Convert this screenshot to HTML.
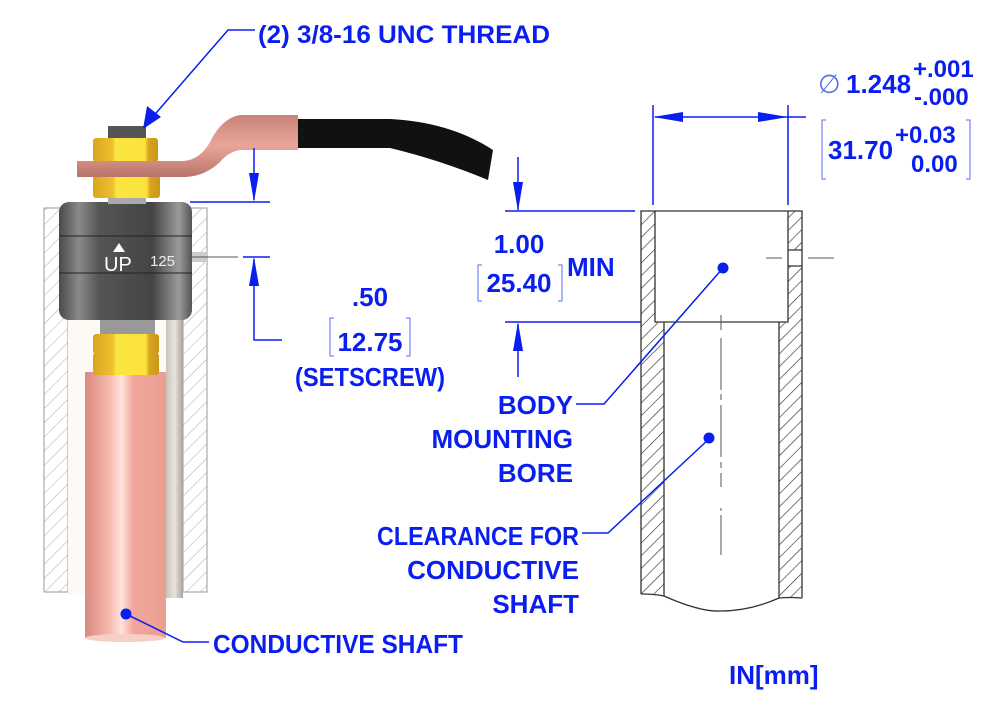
<!DOCTYPE html>
<html><head><meta charset="utf-8"><style>
html,body{margin:0;padding:0;background:#fff}
svg{display:block}
text{font-family:"Liberation Sans",sans-serif;font-weight:bold;fill:#0a1ef0}
</style></head><body>
<svg width="1000" height="711" viewBox="0 0 1000 711" xmlns="http://www.w3.org/2000/svg">
<defs>
<pattern id="h" patternUnits="userSpaceOnUse" width="9" height="9" patternTransform="rotate(45)">
<line x1="0" y1="0" x2="0" y2="9" stroke="#333" stroke-width="1.3"/></pattern>
<pattern id="hl" patternUnits="userSpaceOnUse" width="10" height="10" patternTransform="rotate(45)">
<line x1="0" y1="0" x2="0" y2="10" stroke="#aaa" stroke-width="1"/></pattern>
<linearGradient id="cu" x1="0" x2="1"><stop offset="0" stop-color="#d98a80"/><stop offset=".3" stop-color="#f6b8ae"/><stop offset=".45" stop-color="#fde3dc"/><stop offset=".6" stop-color="#f2a59a"/><stop offset="1" stop-color="#e8a090"/></linearGradient>
<linearGradient id="gr" x1="0" x2="1"><stop offset="0" stop-color="#4a4a4a"/><stop offset=".15" stop-color="#8a8a8a"/><stop offset=".3" stop-color="#555"/><stop offset=".7" stop-color="#444"/><stop offset=".9" stop-color="#9a9a9a"/><stop offset="1" stop-color="#555"/></linearGradient>
<linearGradient id="nut" x1="0" x2="1"><stop offset="0" stop-color="#d9a520"/><stop offset=".3" stop-color="#f0c030"/><stop offset=".35" stop-color="#fbe640"/><stop offset=".8" stop-color="#fbe23c"/><stop offset=".85" stop-color="#d9a520"/><stop offset="1" stop-color="#c89818"/></linearGradient>
<linearGradient id="ss" x1="0" x2="1"><stop offset="0" stop-color="#c8c2b8"/><stop offset=".5" stop-color="#e8e4de"/><stop offset="1" stop-color="#a8a29a"/></linearGradient>
<linearGradient id="lug" x1="0" x2="0" y1="0" y2="1"><stop offset="0" stop-color="#c88478"/><stop offset=".5" stop-color="#e8a598"/><stop offset="1" stop-color="#b87468"/></linearGradient>
</defs>

<rect x="44" y="208" width="24" height="384" fill="url(#hl)" stroke="#999" stroke-width="1"/>
<rect x="183" y="208" width="24" height="384" fill="url(#hl)" stroke="#999" stroke-width="1"/>
<rect x="68" y="320" width="115" height="275" fill="#fdfaf6"/>
<rect x="166" y="318" width="17" height="280" fill="url(#ss)"/>
<rect x="85" y="372" width="81" height="266" fill="url(#cu)"/>
<ellipse cx="125" cy="638" rx="40" ry="4" fill="#f6d0c8"/>
<rect x="100" y="318" width="55" height="20" fill="#999"/>
<rect x="93" y="334" width="66" height="20" rx="3" fill="url(#nut)"/>
<rect x="93" y="353" width="66" height="22" rx="3" fill="url(#nut)"/>
<rect x="59" y="202" width="133" height="118" rx="10" fill="url(#gr)"/>
<line x1="59" y1="236" x2="192" y2="236" stroke="#222" stroke-width="1"/>
<line x1="59" y1="273" x2="192" y2="273" stroke="#222" stroke-width="1"/>
<rect x="192" y="252" width="16" height="10" fill="#ccc"/>
<polygon points="113,252 125,252 119,243" fill="#fff"/>
<text x="104" y="271" style="fill:#fff;font-weight:normal;font-size:20px">UP</text>
<text x="150" y="266" style="fill:#eee;font-weight:normal;font-size:15px">125</text>
<line x1="188" y1="257" x2="238" y2="257" stroke="#555" stroke-width="1"/>
<rect x="108" y="196" width="38" height="8" fill="#aaa"/>
<rect x="108" y="126" width="38" height="14" fill="#555"/>
<rect x="93" y="175" width="67" height="23" rx="3" fill="url(#nut)"/>
<rect x="93" y="138" width="65" height="24" rx="3" fill="url(#nut)"/>
<path d="M77,161 L183,161 Q200,160 210,142 Q222,118 240,115 L298,115 L298,150 L240,150 Q228,152 220,162 Q205,176 186,177 L77,177 Z" fill="url(#lug)"/>
<path d="M298,119 L390,119 Q450,122 493,150 L488,180 Q440,160 390,148 L298,148 Z" fill="#111"/>

<g stroke="#0a1ef0" stroke-width="1.5" fill="none">
<polyline points="255,30 228,30 150,120"/>
</g>
<polygon points="143,129 147,106 161,117" fill="#0a1ef0"/>
<text x="258" y="43" font-size="25" textLength="292" lengthAdjust="spacingAndGlyphs">(2) 3/8-16 UNC THREAD</text>

<g stroke="#0a1ef0" stroke-width="1.5" fill="none">
<line x1="254" y1="148" x2="254" y2="200"/>
<line x1="190" y1="202" x2="270" y2="202"/>
<line x1="243" y1="257" x2="270" y2="257"/>
<polyline points="254,259 254,340 282,340"/>
<line x1="505" y1="211" x2="635" y2="211"/>
<line x1="518" y1="157" x2="518" y2="210"/>
<line x1="505" y1="322" x2="641" y2="322"/>
<line x1="518" y1="324" x2="518" y2="377"/>
<line x1="653" y1="105" x2="653" y2="205"/>
<line x1="788" y1="105" x2="788" y2="205"/>
<line x1="655" y1="117" x2="806" y2="117"/>
</g>
<g fill="#0a1ef0">
<polygon points="254,202 249,173 259,173"/>
<polygon points="254,257 249,286 259,286"/>
<polygon points="518,211 513,182 523,182"/>
<polygon points="518,322 513,351 523,351"/>
<polygon points="653,117 683,112 683,122"/>
<polygon points="788,117 758,112 758,122"/>
</g>
<text x="370" y="306" font-size="26" text-anchor="middle">.50</text>
<text x="370" y="351" font-size="26" text-anchor="middle">12.75</text>
<path d="M334,318 h-4 v38 h4 M406,318 h4 v38 h-4" stroke="#5a6ef0" stroke-width="1" fill="none"/>
<text x="370" y="386" font-size="26" text-anchor="middle" textLength="150" lengthAdjust="spacingAndGlyphs">(SETSCREW)</text>
<text x="519" y="253" font-size="26" text-anchor="middle">1.00</text>
<text x="519" y="292" font-size="26" text-anchor="middle">25.40</text>
<path d="M482,265 h-4 v36 h4 M558,265 h4 v36 h-4" stroke="#5a6ef0" stroke-width="1" fill="none"/>
<text x="567" y="276" font-size="26">MIN</text>

<text x="818" y="93" font-size="26" style="font-weight:normal;fill:#5a6ef0">∅</text>
<text x="846" y="93" font-size="26">1.248</text>
<text x="913" y="77" font-size="24">+.001</text>
<text x="914" y="105" font-size="24">-.000</text>
<path d="M826,120 h-4 v59 h4 M966,120 h4 v59 h-4" stroke="#5a6ef0" stroke-width="1" fill="none"/>
<text x="828" y="159" font-size="26">31.70</text>
<text x="895" y="143" font-size="24">+0.03</text>
<text x="911" y="172" font-size="24">0.00</text>

<rect x="641" y="211" width="14" height="111" fill="url(#h)"/>
<rect x="788" y="211" width="14" height="111" fill="url(#h)"/>
<rect x="641" y="322" width="23" height="272" fill="url(#h)"/>
<rect x="779" y="322" width="23" height="276" fill="url(#h)"/>
<rect x="788" y="250" width="14" height="16" fill="#fff"/>
<g stroke="#333" stroke-width="1.3" fill="none">
<path d="M641,594 L641,211 L802,211 L802,598"/>
<path d="M655,211 L655,322 L788,322 L788,211"/>
<path d="M664,322 L664,596 M779,322 L779,598"/>
<path d="M788,250 h14 M788,266 h14"/>
<path d="M641,594 Q655,594 664,596 Q700,612 720,611 Q750,611 779,598 Q790,597 802,598"/>
</g>
<g stroke="#555" stroke-width="1">
<line x1="766" y1="258" x2="782" y2="258"/>
<line x1="808" y1="258" x2="834" y2="258"/>
<line x1="721" y1="315" x2="721" y2="330"/>
<line x1="721" y1="338" x2="721" y2="390"/>
<line x1="721" y1="394" x2="721" y2="400"/>
<line x1="721" y1="405" x2="721" y2="457"/>
<line x1="721" y1="462" x2="721" y2="468"/>
<line x1="721" y1="473" x2="721" y2="487"/>
<line x1="721" y1="515" x2="721" y2="555"/>
<line x1="721" y1="508" x2="721" y2="511"/>
</g>

<g stroke="#0a1ef0" stroke-width="1.5" fill="none">
<polyline points="576,404 604,404 723,268"/>
<polyline points="582,533 608,533 709,439"/>
<polyline points="209,642 183,642 126,614"/>
</g>
<g fill="#0a1ef0">
<circle cx="723" cy="268" r="5.5"/>
<circle cx="709" cy="438" r="5.5"/>
<circle cx="126" cy="614" r="5.5"/>
</g>
<g font-size="26" text-anchor="end">
<text x="573" y="414">BODY</text>
<text x="573" y="448">MOUNTING</text>
<text x="573" y="482">BORE</text>
<text x="579" y="545" textLength="202" lengthAdjust="spacingAndGlyphs">CLEARANCE FOR</text>
<text x="579" y="579">CONDUCTIVE</text>
<text x="579" y="613">SHAFT</text>
</g>
<text x="213" y="653" font-size="26" textLength="250" lengthAdjust="spacingAndGlyphs">CONDUCTIVE SHAFT</text>
<text x="729" y="684" font-size="26">IN[mm]</text>
</svg>
</body></html>
